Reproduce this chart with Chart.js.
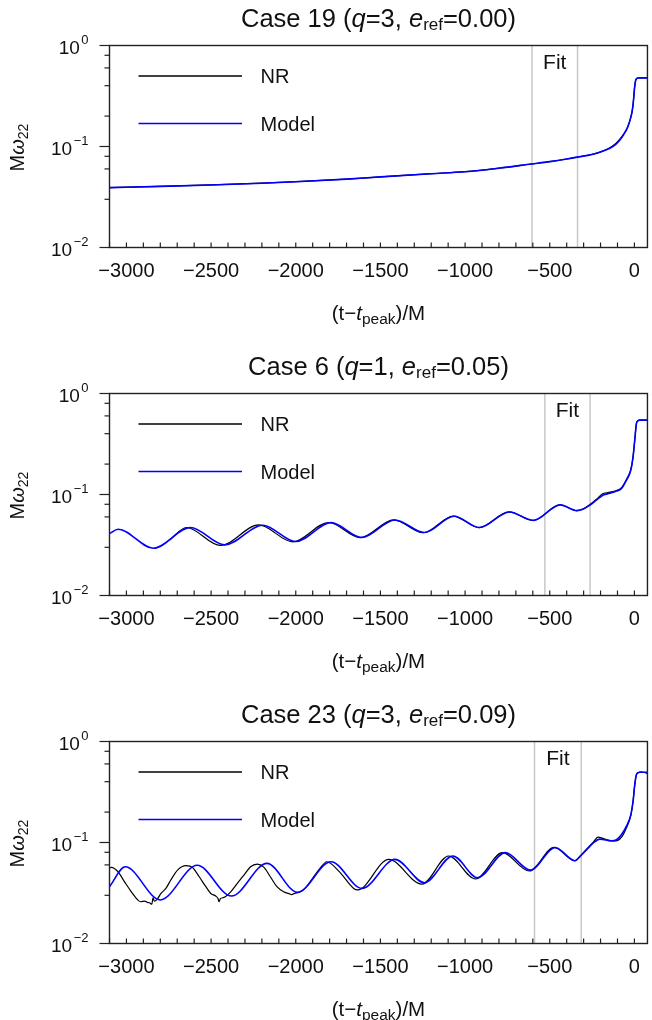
<!DOCTYPE html>
<html>
<head>
<meta charset="utf-8">
<script src="https://cdn.jsdelivr.net/npm/chart.js@4.4.1/dist/chart.umd.min.js"></script>
<style>
  html, body { margin: 0; background: #fff; overflow: hidden; }
  #wrap { position: relative; width: 652px; height: 1020px; overflow: hidden; }
  #wrap canvas { position: absolute; left: 0; }
</style>
</head>
<body>
<div id="wrap">
  <canvas id="panel19" width="652" height="340" style="top:0px"></canvas>
  <canvas id="panel6" width="652" height="340" style="top:348px"></canvas>
  <canvas id="panel23" width="652" height="340" style="top:696px"></canvas>
</div>
<script>
// Case 19 (q=3, e=0.00): NR and model share the time samples
const case19Time  = [-3100, -2800, -2500, -2200, -2000, -1700, -1500, -1200, -1000, -800, -608, -500, -400, -337, -250, -200, -145, -110, -86, -65, -47, -35, -23, -14, -8, -3, 0, 4, 8, 14, 22, 40, 77];
const case19NR    = [0.0392, 0.0403, 0.0416, 0.0433, 0.0448, 0.0475, 0.0500, 0.0538, 0.0563, 0.0610, 0.0671, 0.0708, 0.0752, 0.0786, 0.0838, 0.0885, 0.0970, 0.1070, 0.118, 0.132, 0.147, 0.164, 0.190, 0.220, 0.260, 0.320, 0.370, 0.420, 0.455, 0.472, 0.477, 0.478, 0.478];
const case19Model = [0.0392, 0.0403, 0.0416, 0.0433, 0.0448, 0.0475, 0.0500, 0.0538, 0.0563, 0.0610, 0.0671, 0.0708, 0.0752, 0.0785, 0.0835, 0.0880, 0.0960, 0.1050, 0.116, 0.130, 0.146, 0.163, 0.190, 0.220, 0.260, 0.320, 0.370, 0.420, 0.455, 0.472, 0.477, 0.478, 0.478];

// Case 6 (q=1, e=0.05)
const case6NRTime    = [-2744, -2646, -2445, -2218, -2018, -1806, -1620, -1422, -1248, -1070, -918, -741, -598, -440, -340, -301, -262, -223, -190, -150, -110, -76, -47, -21, -8, 2, 12, 22, 31, 77];
const case6NR        = [0.0355, 0.0471, 0.0313, 0.0500, 0.0340, 0.0528, 0.0374, 0.0562, 0.0418, 0.0612, 0.0469, 0.0673, 0.0553, 0.0792, 0.0692, 0.0722, 0.0795, 0.0900, 0.1010, 0.1050, 0.1090, 0.117, 0.141, 0.177, 0.236, 0.346, 0.505, 0.540, 0.545, 0.545];
const case6ModelTime = [-3100, -3049, -2841, -2622, -2420, -2195, -2000, -1792, -1609, -1414, -1240, -1065, -914, -738, -597, -438, -340, -301, -262, -223, -184, -145, -106, -76, -47, -21, -8, 2, 12, 22, 31, 77];
const case6Model     = [0.0410, 0.0453, 0.0294, 0.0471, 0.0317, 0.0496, 0.0342, 0.0527, 0.0375, 0.0560, 0.0420, 0.0610, 0.0471, 0.0672, 0.0555, 0.0790, 0.0692, 0.0719, 0.0787, 0.0883, 0.0988, 0.1027, 0.1080, 0.115, 0.139, 0.175, 0.236, 0.346, 0.505, 0.540, 0.545, 0.545];

// Case 23 (q=3, e=0.09): NR is noisy in the early troughs
const case23NRTime = [-3100, -3089, -3050, -3011, -2971, -2932, -2915, -2893, -2875, -2864, -2850, -2843, -2835, -2818, -2796, -2767, -2738, -2698, -2649, -2610, -2570, -2531, -2502, -2473, -2460, -2453, -2445, -2424, -2384, -2345, -2306, -2267, -2228, -2189, -2150, -2111, -2072, -2040, -2023, -2010, -1990, -1954, -1865, -1816, -1743, -1658, -1634, -1451, -1255, -1097, -938, -780, -621, -475, -352, -321, -282, -243, -215, -180, -140, -110, -76, -47, -21, -8, 2, 12, 25, 40, 60, 77];
const case23NR     = [0.0560, 0.0567, 0.0513, 0.0408, 0.0325, 0.0269, 0.0259, 0.0263, 0.0255, 0.0253, 0.0245, 0.0283, 0.0262, 0.0275, 0.0313, 0.0351, 0.0425, 0.0533, 0.0589, 0.0565, 0.0458, 0.0365, 0.0313, 0.0295, 0.0280, 0.0259, 0.0278, 0.0286, 0.0325, 0.0394, 0.0476, 0.0575, 0.0612, 0.0570, 0.0458, 0.0365, 0.0325, 0.0312, 0.0305, 0.0312, 0.0318, 0.0340, 0.0533, 0.0645, 0.0514, 0.0351, 0.0340, 0.0680, 0.0387, 0.0735, 0.0435, 0.0793, 0.0522, 0.0893, 0.0660, 0.0730, 0.0860, 0.1010, 0.1130, 0.1090, 0.1040, 0.1040, 0.113, 0.140, 0.186, 0.254, 0.372, 0.470, 0.493, 0.497, 0.493, 0.480];
const case23ModelTime = [-3100, -3007, -2800, -2582, -2380, -2170, -1990, -1792, -1609, -1414, -1240, -1072, -926, -763, -614, -468, -350, -321, -282, -243, -204, -135, -106, -76, -47, -21, -8, 2, 12, 25, 31, 77];
const case23Model     = [0.0365, 0.0575, 0.0270, 0.0595, 0.0295, 0.0621, 0.0321, 0.0645, 0.0351, 0.0680, 0.0400, 0.0735, 0.0448, 0.0793, 0.0533, 0.0893, 0.0660, 0.0730, 0.0850, 0.0989, 0.1080, 0.1040, 0.1066, 0.120, 0.145, 0.189, 0.256, 0.374, 0.471, 0.493, 0.497, 0.495];

// fit windows (start, end) in units of M
const case19Fit = [-605, -336];
const case6Fit  = [-529, -262];
const case23Fit = [-590, -314];

const FONT = '"Liberation Sans", Arial, Helvetica, sans-serif';
const INK = '#111';

function fnt(size, italic) {
  return (italic ? 'italic ' : '') + size + 'px ' + FONT;
}

function runsWidth(ctx, runs) {
  let w = 0;
  runs.forEach(r => { ctx.font = fnt(r.size, r.italic); w += ctx.measureText(r.text).width; });
  return w;
}

function drawRuns(ctx, runs, x, y) {
  runs.forEach(r => {
    ctx.font = fnt(r.size, r.italic);
    ctx.fillText(r.text, x, y + (r.dy || 0));
    x += ctx.measureText(r.text).width;
  });
}

function toXY(t, w) {
  return t.map((x, i) => ({ x: x, y: w[i] }));
}

// frame, ticks, labels, legend and fit window for one panel
const panelDeco = {
  id: 'panelDeco',
  beforeDatasetsDraw(chart, args, opts) {
    const { ctx, chartArea: a, scales: { x } } = chart;
    ctx.save();
    ctx.strokeStyle = '#c8c8c8';
    ctx.lineWidth = 1.5;
    opts.fit.forEach(v => {
      const px = x.getPixelForValue(v);
      ctx.beginPath();
      ctx.moveTo(px, a.top);
      ctx.lineTo(px, a.bottom);
      ctx.stroke();
    });
    ctx.restore();
  },
  afterDraw(chart, args, opts) {
    const { ctx, chartArea: a, scales: { x, y } } = chart;
    ctx.save();
    ctx.strokeStyle = '#222';
    ctx.fillStyle = INK;

    // box
    ctx.lineWidth = 1.4;
    ctx.strokeRect(a.left, a.top, a.right - a.left, a.bottom - a.top);

    // x ticks, pointing inward
    ctx.lineWidth = 1.2;
    x.ticks.forEach(t => {
      const px = x.getPixelForValue(t.value);
      ctx.beginPath();
      ctx.moveTo(px, a.bottom);
      ctx.lineTo(px, a.bottom - 5);
      ctx.stroke();
    });

    // y ticks outward, decade labels as 10^n
    y.ticks.forEach(t => {
      const py = y.getPixelForValue(t.value);
      const e = Math.log10(t.value);
      const major = Math.abs(e - Math.round(e)) < 1e-6;
      ctx.beginPath();
      ctx.moveTo(a.left, py);
      ctx.lineTo(a.left - (major ? 10 : 5), py);
      ctx.stroke();
      if (major) {
        const n = Math.round(e);
        const sup = n < 0 ? '\u2212' + (-n) : String(n);
        ctx.font = fnt(13);
        const sw = ctx.measureText(sup).width;
        const right = 88.5;
        ctx.textAlign = 'left';
        ctx.fillText(sup, right - sw, py - 1.5);
        ctx.font = fnt(19);
        const bw = ctx.measureText('10').width;
        ctx.fillText('10', right - sw - 1.5 - bw, py + 8);
      }
    });

    // title
    const cx = (a.left + a.right) / 2;
    const title = [
      { text: opts.name + ' (', size: 25.5 },
      { text: 'q', size: 25.5, italic: true },
      { text: '=' + opts.q + ', ', size: 25.5 },
      { text: 'e', size: 25.5, italic: true },
      { text: 'ref', size: 17, dy: 2.5 },
      { text: '=' + opts.e + ')', size: 25.5 }
    ];
    ctx.textAlign = 'left';
    drawRuns(ctx, title, cx - runsWidth(ctx, title) / 2, a.top - 18.5);

    // x axis title
    const xt = [
      { text: '(t\u2212', size: 20.5 },
      { text: 't', size: 20.5, italic: true },
      { text: 'peak', size: 15.5, dy: 4 },
      { text: ')/M', size: 20.5 }
    ];
    drawRuns(ctx, xt, cx - runsWidth(ctx, xt) / 2, a.bottom + 72);

    // y axis title, rotated
    const yt = [
      { text: 'M', size: 20 },
      { text: '\u03c9', size: 20, italic: true },
      { text: '22', size: 14, dy: 4 }
    ];
    ctx.save();
    ctx.translate(23.5, (a.top + a.bottom) / 2 + 1);
    ctx.rotate(-Math.PI / 2);
    drawRuns(ctx, yt, -runsWidth(ctx, yt) / 2, 0);
    ctx.restore();

    // legend
    const rows = [a.top + 30.5, a.top + 78];
    const items = [chart.data.datasets[0], chart.data.datasets[1]];
    items.forEach((ds, i) => {
      ctx.strokeStyle = ds.borderColor;
      ctx.lineWidth = 1.5;
      ctx.beginPath();
      ctx.moveTo(138.5, rows[i]);
      ctx.lineTo(242, rows[i]);
      ctx.stroke();
      ctx.font = fnt(20);
      ctx.fillText(ds.label, 260.5, rows[i] + 7);
    });

    // fit window label
    const fx = (x.getPixelForValue(opts.fit[0]) + x.getPixelForValue(opts.fit[1])) / 2;
    ctx.font = fnt(21);
    ctx.textAlign = 'center';
    ctx.fillText('Fit', fx, a.top + 23.5);

    ctx.restore();
  }
};

function makePanel(id, info, nrT, nrW, modelT, modelW) {
  const ctx = document.getElementById(id).getContext('2d');
  return new Chart(ctx, {
    type: 'line',
    data: {
      datasets: [{
        label: 'NR',
        data: toXY(nrT, nrW),
        borderColor: '#000000',
        borderWidth: 1.2,
        pointRadius: 0,
        cubicInterpolationMode: 'monotone',
        order: 1
      }, {
        label: 'Model',
        data: toXY(modelT, modelW),
        borderColor: '#0000ff',
        borderWidth: 1.6,
        pointRadius: 0,
        cubicInterpolationMode: 'monotone',
        order: 0
      }]
    },
    options: {
      responsive: false,
      animation: false,
      devicePixelRatio: 1,
      layout: { padding: { top: 45.5, right: 1, left: 0, bottom: 0 } },
      plugins: {
        legend: { display: false },
        tooltip: { enabled: false },
        panelDeco: info
      },
      scales: {
        x: {
          type: 'linear',
          min: -3100,
          max: 77,
          afterFit: s => { s.height = 92.5; },
          grid: { display: false, drawTicks: false },
          border: { display: false },
          ticks: {
            stepSize: 100,
            includeBounds: false,
            autoSkip: false,
            maxRotation: 0,
            padding: 12,
            color: INK,
            font: { family: FONT, size: 20 },
            callback: v => (v % 500 === 0 ? (v < 0 ? '\u2212' + Math.abs(v) : String(v)) : '')
          }
        },
        y: {
          type: 'logarithmic',
          min: 0.01,
          max: 1,
          afterFit: s => { s.width = 109.5; },
          grid: { display: false, drawTicks: false },
          border: { display: false },
          ticks: { callback: () => '' }
        }
      }
    },
    plugins: [panelDeco]
  });
}

makePanel('panel19', { name: 'Case 19', q: '3', e: '0.00', fit: case19Fit },
  case19Time, case19NR, case19Time, case19Model);
makePanel('panel6', { name: 'Case 6', q: '1', e: '0.05', fit: case6Fit },
  case6NRTime, case6NR, case6ModelTime, case6Model);
makePanel('panel23', { name: 'Case 23', q: '3', e: '0.09', fit: case23Fit },
  case23NRTime, case23NR, case23ModelTime, case23Model);
</script>
</body>
</html>
